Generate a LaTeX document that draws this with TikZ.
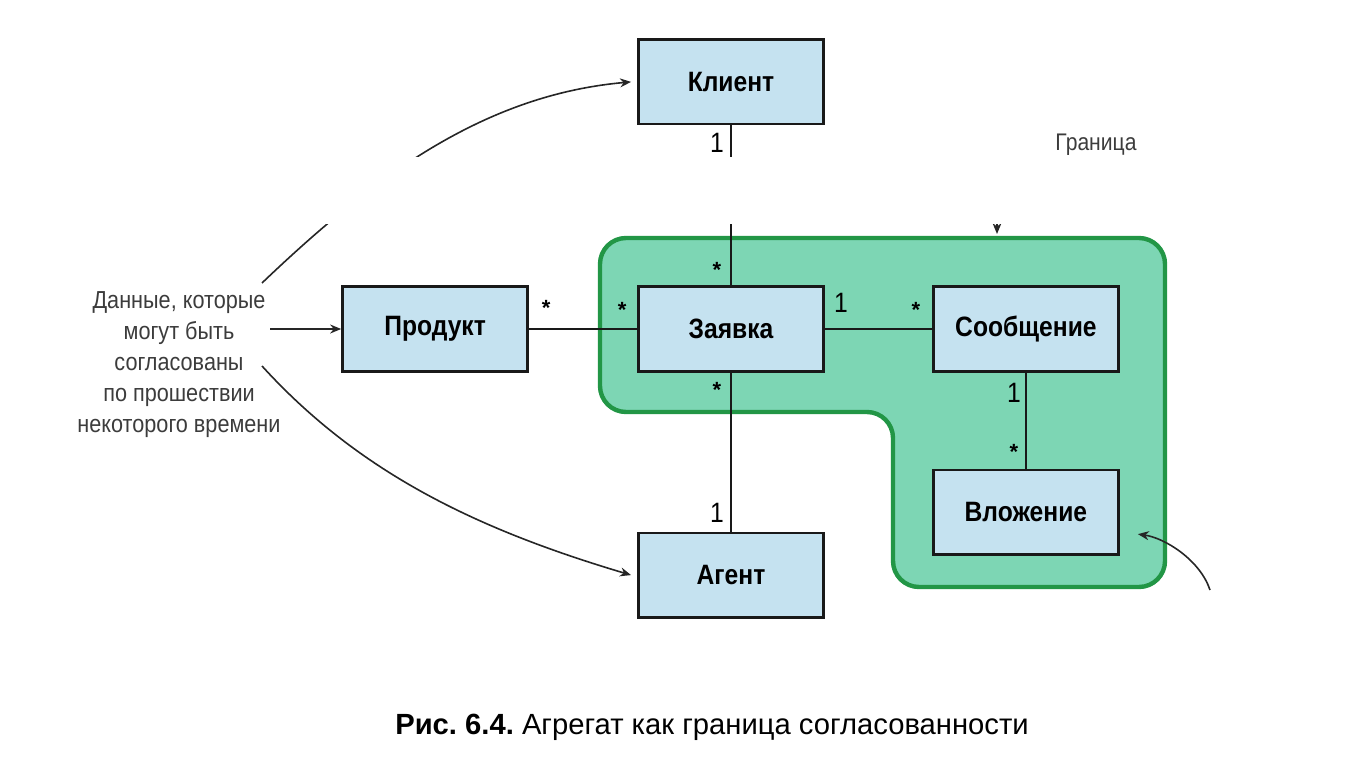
\documentclass[tikz,border=0pt]{standalone}
\usepackage{fontspec}
\setmainfont{Liberation Sans}
\newfontfamily\narrowfont{Liberation Sans}[FakeStretch=0.88]
\usetikzlibrary{positioning, arrows.meta}
\definecolor{boxfill}{RGB}{197,226,240}
\definecolor{zonefill}{RGB}{125,214,180}
\definecolor{zoneedge}{RGB}{34,150,70}
\definecolor{notetext}{RGB}{60,60,60}
\frenchspacing

\begin{document}
\begin{tikzpicture}[x=0.5pt, y=-0.5pt,
  entity/.style={
    rectangle, draw=black!90, fill=boxfill, line width=1.35pt,
    minimum width=92.6pt, minimum height=42.2pt,
    font=\narrowfont\bfseries\fontsize{14}{16}\selectfont
  },
  assoc/.style={line width=1.4pt, draw=black!90},
  mult/.style={font=\narrowfont\fontsize{14}{16}\selectfont, inner sep=1pt},
  star/.style={font=\bfseries\fontsize{11}{12}\selectfont, inner sep=1pt},
  note/.style={font=\narrowfont\fontsize{12.3}{15.5}\selectfont, text=notetext, align=center},
  pointer/.style={-{Stealth[length=5.5pt,width=4.5pt]}, line width=0.8pt, draw=black!85}
]
\useasboundingbox (0,0) rectangle (1364,770);

% aggregate boundary
\draw[draw=zoneedge, fill=zonefill, line width=2.2pt, rounded corners=13pt]
  (600,238) -- (1165,238) -- (1165,587) -- (893,587) -- (893,412) -- (600,412) -- cycle;

% entities
\node[entity] (zayavka) at (731,329) {Заявка};
\node[entity, left=54pt of zayavka] (produkt) {Продукт};
\node[entity, above=80pt of zayavka] (klient) {Клиент};
\node[entity, below=79.5pt of zayavka] (agent) {Агент};
\node[entity, right=53.5pt of zayavka] (soobsch) {Сообщение};
\node[entity, below=48pt of soobsch] (vlozh) {Вложение};

% associations
\draw[assoc] (klient) -- (zayavka);
\draw[assoc] (produkt) -- (zayavka);
\draw[assoc] (zayavka) -- (soobsch);
\draw[assoc] (zayavka) -- (agent);
\draw[assoc] (soobsch) -- (vlozh);

\path (klient.south) ++(-14,17) node[mult] (m1) {1};
\path (zayavka.north) ++(-14,-16) node[star] (m2) {*};
\path (produkt.east) ++(17,-21) node[star] (m3) {*};
\path (zayavka.west) ++(-15,-19) node[star] (m4) {*};
\path (zayavka.east) ++(16,-26) node[mult] (m5) {1};
\path (soobsch.west) ++(-16,-19) node[star] (m6) {*};
\path (zayavka.south) ++(-14,17) node[star] (m7) {*};
\path (agent.north) ++(-14,-19) node[mult] (m8) {1};
\path (soobsch.south) ++(-12,20) node[mult] (m9) {1};
\path (vlozh.north) ++(-12,-17) node[star] (m10) {*};

% note on the left
\node[note] (note) at (179,365) {Данные, которые\\могут быть\\согласованы\\по прошествии\\некоторого времени};
\coordinate (noteup) at (262,283);
\coordinate (notemid) at (270,329);
\coordinate (notelow) at (262,366);
\draw[pointer] (notemid) -- (produkt.west);
\draw[pointer] (noteup) .. controls (372,178) and (483,95) .. ([xshift=-3pt]klient.west);
\draw[pointer] (notelow) .. controls (362,476) and (483,531) .. ([xshift=-3pt]agent.west);

% boundary label
\node[font=\narrowfont\fontsize{12}{14}\selectfont, text=notetext] (granica) at (1096,145) {Граница};
\coordinate (zonetop) at (997,234);
\draw[pointer] (997,160) -- (zonetop);
\coordinate (aggtail) at (1210,590);
\draw[pointer] (aggtail) .. controls (1200,560) and (1165,538) .. ([xshift=9pt,yshift=-11pt]vlozh.east);

% blank band of the original
\fill[white] (0,157) rectangle (1364,224);

% caption
\node[font=\fontsize{14.6}{16}\selectfont] (caption) at (712,727) {\textbf{Рис. 6.4.} Агрегат как граница согласованности};

\end{tikzpicture}
\end{document}
